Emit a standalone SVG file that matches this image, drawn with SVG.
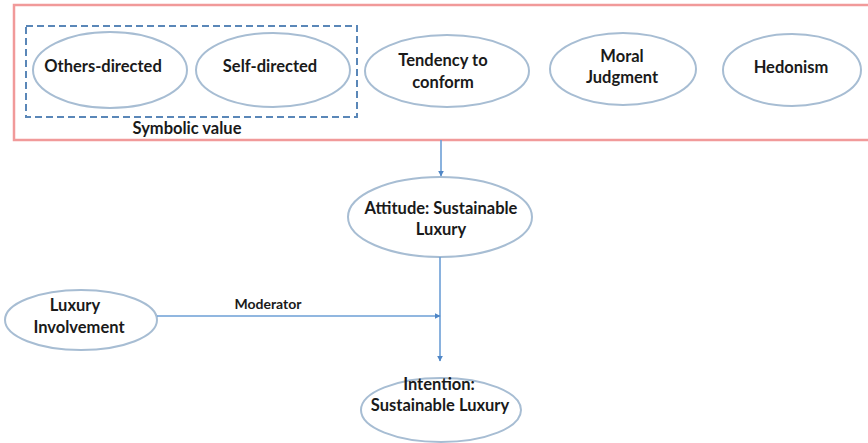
<svg xmlns="http://www.w3.org/2000/svg" width="868" height="443" viewBox="0 0 868 443">
<style>
.node ellipse{fill:#fff;stroke:#a7bdd3;stroke-width:2}
.t{font-family:Lato,"Liberation Sans",sans-serif;font-weight:bold;font-size:16.5px;fill:#1a1a1a;text-anchor:middle}
.lbl{font-family:Lato,"Liberation Sans",sans-serif;font-weight:bold;font-size:14px;fill:#1a1a1a;text-anchor:middle}
.conn{stroke:#6d9fd6;stroke-width:1.6;fill:none}
</style>
<defs>
<marker id="ah" viewBox="0 0 10 10" refX="9" refY="5" markerWidth="6" markerHeight="6" orient="auto" markerUnits="userSpaceOnUse">
<path d="M0,0 L10,5 L0,10 z" fill="#4f86c6"/>
</marker>
</defs>
<rect width="868" height="443" fill="#fff"/>
<g id="frame">
<rect x="14" y="5" width="860" height="135" fill="none" stroke="#f19a9a" stroke-width="2.5"/>
</g>
<g id="symbolic-value">
<rect x="26" y="26" width="331" height="91" fill="none" stroke="#5a87b8" stroke-width="2" stroke-dasharray="7,4"/>
<text class="t" x="187" y="134">Symbolic value</text>
</g>
<g id="others-directed" class="node">
<ellipse cx="110" cy="70" rx="77" ry="38"/>
<text class="t" x="103" y="72">Others-directed</text>
</g>
<g id="self-directed" class="node">
<ellipse cx="273" cy="70" rx="77" ry="37"/>
<text class="t" x="270" y="72">Self-directed</text>
</g>
<g id="tendency" class="node">
<ellipse cx="447" cy="71" rx="82" ry="36"/>
<text class="t" x="443" y="66">Tendency to</text>
<text class="t" x="443" y="88">conform</text>
</g>
<g id="moral" class="node">
<ellipse cx="623" cy="69" rx="73" ry="36"/>
<text class="t" x="622" y="62">Moral</text>
<text class="t" x="622" y="83">Judgment</text>
</g>
<g id="hedonism" class="node">
<ellipse cx="792" cy="70" rx="69" ry="36"/>
<text class="t" x="791" y="73">Hedonism</text>
</g>
<g id="attitude" class="node">
<ellipse cx="440" cy="217" rx="92" ry="40"/>
<text class="t" x="441" y="214">Attitude: Sustainable</text>
<text class="t" x="441" y="235">Luxury</text>
</g>
<g id="luxury-involvement" class="node">
<ellipse cx="81" cy="320" rx="76" ry="30"/>
<text class="t" x="75" y="311">Luxury</text>
<text class="t" x="79" y="333">Involvement</text>
</g>
<g id="intention" class="node">
<ellipse cx="441" cy="410" rx="80" ry="32"/>
<text class="t" x="439" y="390">Intention:</text>
<text class="t" x="440" y="411">Sustainable Luxury</text>
</g>
<g id="connectors">
<line class="conn" x1="441" y1="140" x2="441" y2="176" marker-end="url(#ah)"/>
<line class="conn" x1="440" y1="257" x2="440" y2="361" marker-end="url(#ah)"/>
<line class="conn" x1="157" y1="316" x2="440" y2="316" marker-end="url(#ah)"/>
<text class="lbl" x="268" y="309">Moderator</text>
</g>
</svg>
